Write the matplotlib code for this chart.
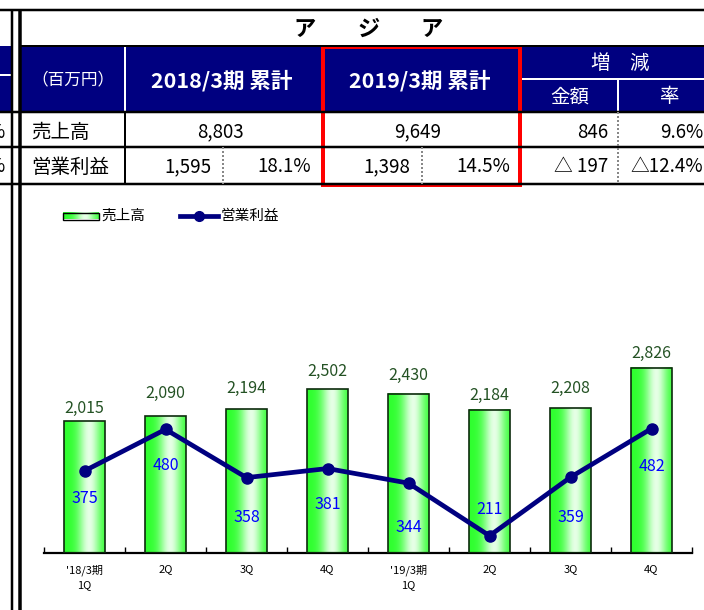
import numpy as np
import matplotlib
matplotlib.use("Agg")
import matplotlib.pyplot as plt
from matplotlib.patches import Rectangle

plt.rcParams['font.family'] = ['Noto Sans CJK JP', 'DejaVu Sans']

# =============================================================================
# DATA
# =============================================================================
quarters = ["'18/3期\n1Q", "2Q", "3Q", "4Q", "'19/3期\n1Q", "2Q", "3Q", "4Q"]
sales = [2015, 2090, 2194, 2502, 2430, 2184, 2208, 2826]
op_income = [375, 480, 358, 381, 344, 211, 359, 482]

title_chars = ['ア', 'ジ', 'ア']
unit_label = '（百万円）'
period_labels = ['2018/3期 累計', '2019/3期 累計']
change_label = '増　減'
change_sub = ['金額', '率']
row_labels = ['売上高', '営業利益']
sales_totals = ['8,803', '9,649']
op_totals = ['1,595', '1,398']
op_margins = ['18.1%', '14.5%']
sales_change = ['846', '9.6%']
op_change = ['△ 197', '△12.4%']
legend_labels = ['売上高', '営業利益']

# label offsets in pixels (labels were hand placed in the original)
sales_label_off = [13, 23, 21, 18, 18, 14, 20, 14]
op_label_off = [28, 36, 40, 36, 44, -26, 40, 38]

NAVY = '#000080'
PX = 0.72  # pixel -> point at dpi 100


def bar_gradient(n=64):
    t = np.linspace(0, 1, n)
    w = np.exp(-((t - 0.62) / 0.27) ** 2)
    green = np.array([0.18, 1.0, 0.18])
    light = np.array([0.9, 1.0, 0.9])
    return (green[None, :] * (1 - w[:, None]) + light[None, :] * w[:, None])[None, :, :]


fig = plt.figure(figsize=(7.04, 6.10), dpi=100)

# =============================================================================
# TABLE (drawn in pixel coordinates)
# =============================================================================
bg = fig.add_axes([0, 0, 1, 1])
bg.set_xlim(0, 704)
bg.set_ylim(610, 0)
bg.axis('off')


def hline(y, x0, x1, color='black', lw=2.5, **kw):
    bg.plot([x0, x1], [y, y], color=color, lw=lw * PX, solid_capstyle='butt', **kw)


def vline(x, y0, y1, color='black', lw=2.5, **kw):
    bg.plot([x, x], [y0, y1], color=color, lw=lw * PX, solid_capstyle='butt', **kw)


# navy header blocks
bg.add_patch(Rectangle((20, 46), 502, 66, color=NAVY, lw=0))
bg.add_patch(Rectangle((522, 46), 190, 66, color=NAVY, lw=0))
bg.add_patch(Rectangle((0, 46), 12, 66, color=NAVY, lw=0))

vline(125, 46, 112, color='white', lw=2)
hline(78.5, 522, 704, color='white', lw=2)
vline(618, 78.5, 112, color='white', lw=2)
hline(75, 0, 11, color='white', lw=2)

# black grid
hline(10, 0, 704, lw=2.5)
hline(45.5, 20, 704, lw=2)
for y in [112, 147, 184]:
    hline(y, 0, 704, lw=2.5)
vline(12, 10, 610, lw=2.5)
vline(19.5, 10, 610, lw=3.5)
vline(125, 112, 184, lw=2)

# dotted separators
for x, y0 in [(223, 147), (422, 147), (618, 112)]:
    vline(x, y0, 184, color='#888888', lw=2, linestyle=(0, (1, 1)))

# red highlight
bg.add_patch(Rectangle((323, 46.5), 197, 138, fill=False, ec='#ff0000', lw=4 * PX))

# partial cells of the table on the left
for y in [132, 167]:
    bg.text(5, y, '%', ha='right', va='center', fontsize=13.5)

# title
for i, ch in enumerate(title_chars):
    bg.text(305 + i * 63.5, 29, ch, ha='center', va='center', fontsize=16, fontweight='bold')

# header
bg.text(73, 80, unit_label, ha='center', va='center', fontsize=12, color='white')
for cx, lab in zip([222, 420], period_labels):
    bg.text(cx, 81, lab, ha='center', va='center', fontsize=15.5, fontweight='bold', color='white')
bg.text(620, 63, change_label, ha='center', va='center', fontsize=14, color='white')
for cx, lab in zip([570, 669], change_sub):
    bg.text(cx, 97, lab, ha='center', va='center', fontsize=14, color='white')

# rows
for y, lab in zip([132, 167], row_labels):
    bg.text(31, y, lab, ha='left', va='center', fontsize=14)
for cx, v in zip([220, 418], sales_totals):
    bg.text(cx, 132, v, ha='center', va='center', fontsize=13.5)
for rx, v in zip([212, 410], op_totals):
    bg.text(rx, 167, v, ha='right', va='center', fontsize=13.5)
for rx, v in zip([311, 510], op_margins):
    bg.text(rx, 167, v, ha='right', va='center', fontsize=13.5)
for rx, v in zip([608, 703], sales_change):
    bg.text(rx, 132, v, ha='right', va='center', fontsize=13.5)
for rx, v in zip([608, 703], op_change):
    bg.text(rx, 167, v, ha='right', va='center', fontsize=13.5)

# legend
bg.imshow(bar_gradient(), extent=(63, 99, 219.5, 212.5), aspect='auto', interpolation='bilinear')
bg.add_patch(Rectangle((63, 212.5), 36, 7, fill=False, ec='black', lw=1))
bg.plot([180, 218], [216, 216], color=NAVY, lw=3.4)
bg.plot([199], [216], 'o', color=NAVY, ms=7)
bg.text(101, 216, legend_labels[0], ha='left', va='center', fontsize=10.5)
bg.text(221, 216, legend_labels[1], ha='left', va='center', fontsize=10.5)
bg.set_xlim(0, 704)
bg.set_ylim(610, 0)

# =============================================================================
# CHART
# =============================================================================
ax = fig.add_axes([44 / 704, (610 - 553) / 610, 648 / 704, 327.5 / 610])
ax.set_facecolor('none')
x = np.arange(len(quarters))

bars = ax.bar(x, sales, width=0.5, facecolor='none', edgecolor='#0d2b0d', lw=1.2, zorder=3)
for b in bars:
    ax.imshow(bar_gradient(), extent=(b.get_x(), b.get_x() + b.get_width(), 0, b.get_height()),
              aspect='auto', interpolation='bilinear', zorder=2)
ax.set_xlim(-0.5, len(quarters) - 0.5)
ax.set_ylim(0, 5000)

for i, (v, off) in enumerate(zip(sales, sales_label_off)):
    ax.annotate(f'{v:,}', (i, v), xytext=(0, off * PX), textcoords='offset points',
                ha='center', va='center', color='#245224', fontsize=11.5)

for s in ['left', 'right', 'top']:
    ax.spines[s].set_visible(False)
ax.spines['bottom'].set_linewidth(1.6)
ax.set_yticks([])
ax.set_xticks(x, quarters)
ax.set_xticks(np.arange(-0.5, len(quarters), 1), minor=True)
ax.tick_params(axis='x', which='major', length=0, pad=8, labelsize=8)
ax.tick_params(axis='x', which='minor', direction='in', length=4, width=1)
for t in ax.get_xticklabels():
    t.set_linespacing(1.6)

ax2 = ax.twinx()
ax2.plot(x, op_income, color=NAVY, lw=3.4, marker='o', ms=8, zorder=3)
ax2.set_ylim(167.4, 995.5)
ax2.set_yticks([])
for s in ax2.spines.values():
    s.set_visible(False)
for i, (v, off) in enumerate(zip(op_income, op_label_off)):
    ax2.annotate(str(v), (i, v), xytext=(0, -off * PX), textcoords='offset points',
                 ha='center', va='center', color='#0000ff', fontsize=11.5)

fig.savefig('out.png', dpi=100)
